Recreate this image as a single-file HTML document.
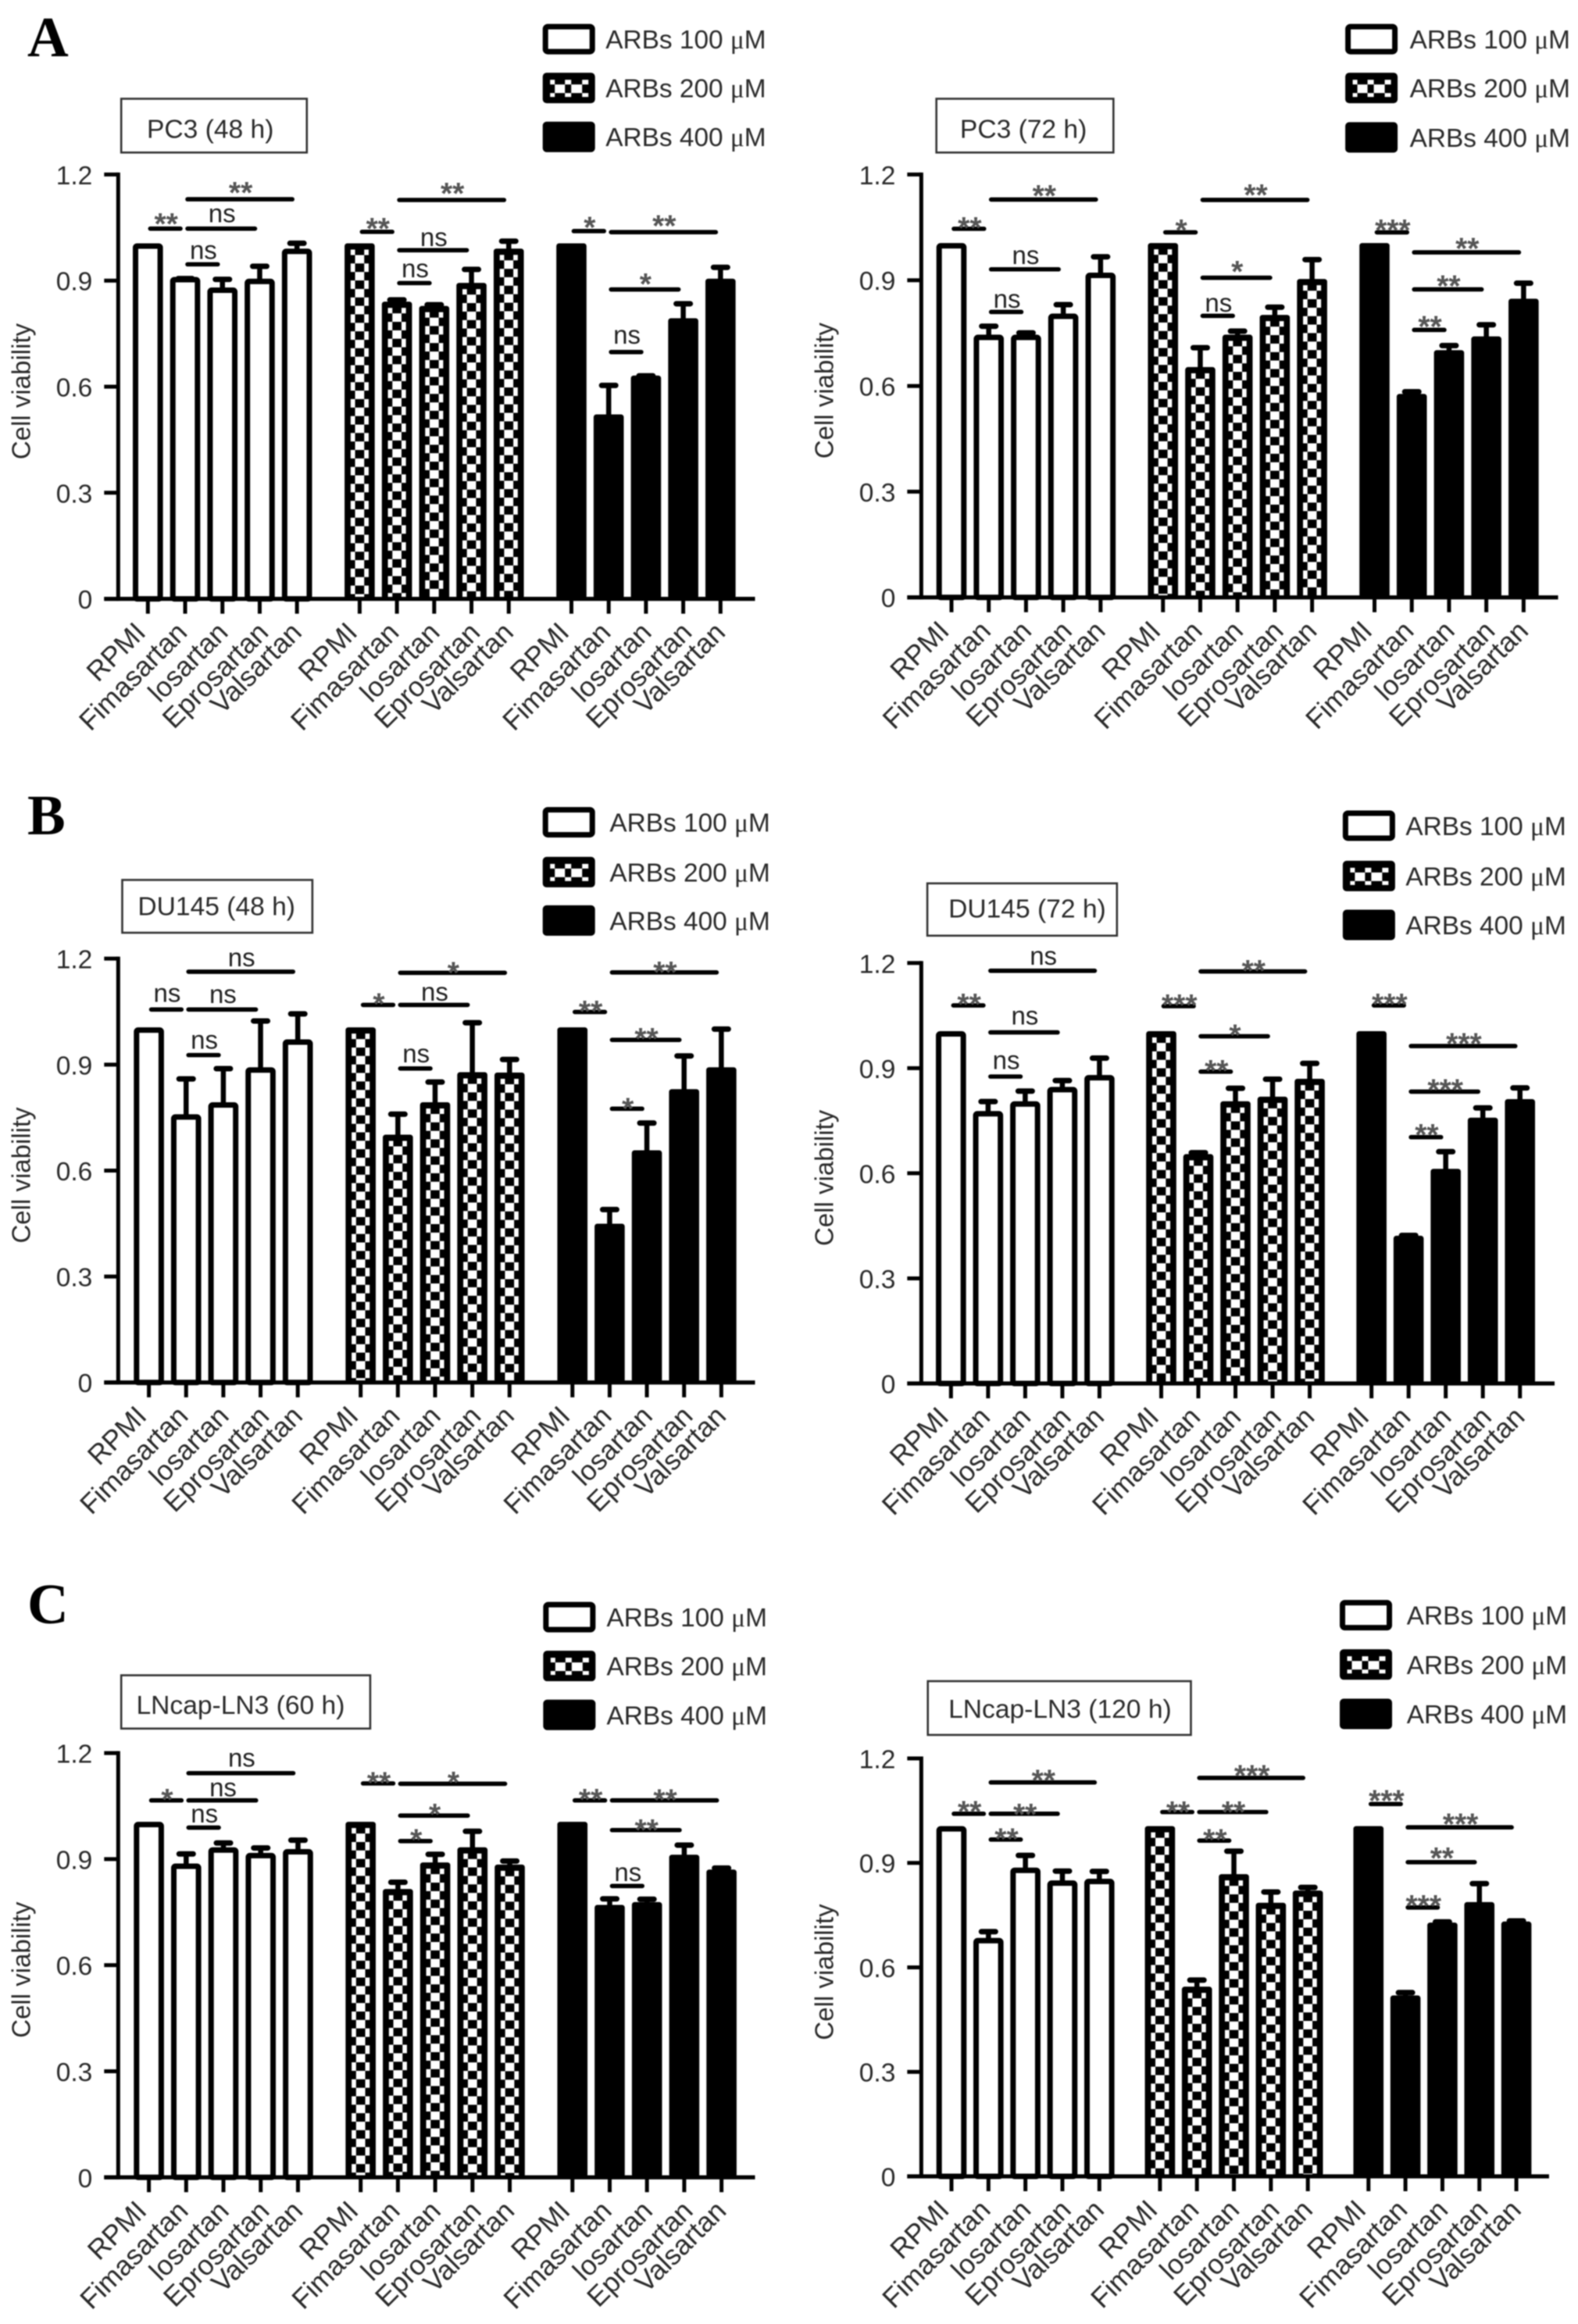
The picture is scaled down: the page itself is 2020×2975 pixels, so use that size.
<!DOCTYPE html>
<html lang="en">
<head>
<meta charset="utf-8">
<title>Cell viability bar charts</title>
<style>
html,body{margin:0;padding:0;background:#fff;}
svg{display:block;filter:blur(0.7px);}
text{font-family:"Liberation Sans",sans-serif;}
</style>
</head>
<body>
<svg id="figure" xmlns="http://www.w3.org/2000/svg" width="2020" height="2975" viewBox="0 0 2020 2975"></svg>
<script>
const categories = ['RPMI','Fimasartan','losartan','Eprosartan','Valsartan'];
const yTickValues = [0,0.3,0.6,0.9,1.2];
const yTickLabels = ['0','0.3','0.6','0.9','1.2'];
const doseLabels = ['ARBs 100 ','ARBs 200 ','ARBs 400 '];
const yAxisLabel = 'Cell viability';
const panelLetters = ['A','B','C'];

const pc348Means  = [[1,0.905,0.875,0.90,0.985],[1,0.835,0.823,0.888,0.985],[1,0.516,0.626,0.788,0.90]];
const pc348Uppers = [[1,0.91,0.908,0.945,1.01],[1,0.85,0.836,0.936,1.016],[1,0.608,0.635,0.839,0.942]];
const pc348Sig = [[0,0,1,1.047,'**',0.028],[0,1,4,1.13,'**',0.033],[0,1,3,1.047,'ns',0.018],[0,1,2,0.946,'ns',0.015],
  [1,0,1,1.038,'**',0.024],[1,1,4,1.128,'**',0.033],[1,1,3,0.986,'ns',0.012],[1,1,2,0.893,'ns',0.016],
  [2,0,1,1.04,'*',0.025],[2,1,4,1.037,'**',0.032],[2,1,3,0.875,'*',0.03],[2,1,2,0.698,'ns',0.023]];

const pc372Means  = [[1,0.74,0.74,0.80,0.916],[1,0.648,0.74,0.796,0.898],[1,0.572,0.696,0.735,0.842]];
const pc372Uppers = [[1,0.774,0.755,0.835,0.971],[1,0.713,0.76,0.828,0.963],[1,0.588,0.719,0.778,0.896]];
const pc372Sig = [[0,0,1,1.046,'**',0.018],[0,1,4,1.129,'**',0.025],[0,1,3,0.931,'ns',0.015],[0,1,2,0.81,'ns',0.012],
  [1,0,1,1.036,'*',0.021],[1,1,4,1.128,'**',0.029],[1,1,3,0.907,'*',0.032],[1,1,2,0.799,'ns',0.012],
  [2,0,1,1.036,'***',0.021],[2,1,4,0.979,'**',0.026],[2,1,3,0.874,'**',0.024],[2,1,2,0.759,'**',0.024]];

const du48Means  = [[1,0.754,0.788,0.887,0.966],[1,0.696,0.788,0.873,0.872],[1,0.444,0.652,0.825,0.887]];
const du48Uppers = [[1,0.864,0.893,1.028,1.048],[1,0.764,0.855,1.023,0.919],[1,0.494,0.739,0.929,1.005]];
const du48Sig = [[0,0,1,1.056,'ns',0.022],[0,1,4,1.163,'ns',0.015],[0,1,3,1.056,'ns',0.018],[0,1,2,0.927,'ns',0.018],
  [1,0,1,1.069,'*',0.017],[1,1,4,1.16,'*',0.015],[1,1,3,1.069,'ns',0.012],[1,1,2,0.889,'ns',0.017],
  [2,0,1,1.049,'**',0.017],[2,1,4,1.161,'**',0.015],[2,1,3,0.97,'**',0.018],[2,1,2,0.775,'*',0.015]];

const du72Means  = [[1,0.772,0.80,0.841,0.875],[1,0.649,0.80,0.813,0.864],[1,0.416,0.607,0.753,0.806]];
const du72Uppers = [[1,0.809,0.839,0.869,0.933],[1,0.663,0.847,0.873,0.918],[1,0.427,0.666,0.791,0.848]];
const du72Sig = [[0,0,1,1.079,'**',0.018],[0,1,4,1.178,'ns',0.017],[0,1,3,1.002,'ns',0.022],[0,1,2,0.876,'ns',0.021],
  [1,0,1,1.077,'***',0.018],[1,1,4,1.176,'**',0.017],[1,1,3,0.991,'*',0.018],[1,1,2,0.89,'**',0.018],
  [2,0,1,1.079,'***',0.018],[2,1,4,0.963,'***',0.021],[2,1,3,0.833,'***',0.02],[2,1,2,0.703,'**',0.022]];

const ln60Means  = [[1,0.882,0.928,0.912,0.923],[1,0.81,0.885,0.928,0.879],[1,0.765,0.773,0.907,0.865]];
const ln60Uppers = [[1,0.919,0.95,0.936,0.958],[1,0.839,0.918,0.983,0.899],[1,0.792,0.791,0.944,0.879]];
const ln60Sig = [[0,0,1,1.066,'*',0.017],[0,1,4,1.143,'ns',0.019],[0,1,3,1.066,'ns',0.011],[0,1,2,0.989,'ns',0.015],
  [1,0,1,1.114,'**',0.017],[1,1,4,1.113,'*',0.019],[1,1,3,1.023,'*',0.018],[1,1,2,0.951,'*',0.018],
  [2,0,1,1.066,'**',0.017],[2,1,4,1.066,'**',0.016],[2,1,3,0.982,'**',0.015],[2,1,2,0.824,'ns',0.014]];

const ln120Means  = [[1,0.679,0.881,0.844,0.849],[1,0.539,0.862,0.78,0.815],[1,0.514,0.723,0.782,0.726]];
const ln120Uppers = [[1,0.707,0.926,0.881,0.88],[1,0.568,0.938,0.821,0.834],[1,0.532,0.735,0.845,0.738]];
const ln120Sig = [[0,0,1,1.041,'**',0.021],[0,1,4,1.131,'**',0.021],[0,1,3,1.041,'**',0.013],[0,1,2,0.967,'**',0.017],
  [1,0,1,1.046,'**',0.015],[1,1,4,1.144,'***',0.021],[1,1,3,1.046,'**',0.015],[1,1,2,0.964,'**',0.017],
  [2,0,1,1.069,'***',0.024],[2,1,4,1.002,'***',0.024],[2,1,3,0.902,'**',0.027],[2,1,2,0.772,'***',0.02]];

const svgNS = 'http://www.w3.org/2000/svg';
const ZX = 0.6439;
const ZY = 0.6258;
const labelShift = [-1,4.5,9,13,8];
const figure = document.getElementById('figure');

function make(tag, parent, geom, text){
  const el = document.createElementNS(svgNS, tag);
  for (const k in geom) el.setAttribute(k, geom[k]);
  if (text !== undefined) el.textContent = text;
  parent.appendChild(el);
  return el;
}

function hatchPath(cx, top, bottom, half, sideW, cell, firstRow){
  let d = '';
  let y = top;
  const rect = (x0,x1,y0,y1) => { d += 'M'+x0+' '+y0+'H'+x1+'V'+y1+'H'+x0+'Z'; };
  let end = Math.min(y+firstRow, bottom);
  rect(cx-half-sideW, cx-half, y, end);
  rect(cx+half, cx+half+sideW, y, end);
  y = end;
  let centre = true;
  while (y < bottom){
    end = Math.min(y+cell, bottom);
    if (centre){ rect(cx-half, cx+half, y, end); }
    else { rect(cx-half-sideW, cx-half, y, end); rect(cx+half, cx+half+sideW, y, end); }
    centre = !centre;
    y = end;
  }
  return d;
}

function drawPanel(layout, title, means, uppers, sig){
  const panel = make('g', figure, {transform:'translate('+layout.ox+' '+layout.oy+')'});
  
  

  const y0 = layout.y0*ZY;
  const y12 = layout.y12*ZY;
  const axisX = layout.axisX*ZX;
  const yScale = v => y0 - v/1.2*(y0-y12);
  const xScale = (g,i) => (layout.first + g*layout.groupStep + i*layout.step)*ZX;

  if (layout.letter !== undefined){
    const letter = make('text', panel, {x:35, y:layout.letterY*ZY, 'font-size':73, 'font-weight':'bold', fill:'#000', style:'font-family:"Liberation Serif",serif'}, panelLetters[layout.letter]);
    
    
  }

  // title box
  const box = make('rect', panel, {x:layout.tx0*ZX, y:layout.ty0*ZY, width:(layout.tx1-layout.tx0)*ZX, height:(layout.ty1-layout.ty0)*ZY, fill:'#fff', stroke:'#333', 'stroke-width':2.6});
  
  
  const titleText = make('text', panel, {x:layout.ttx*ZX, y:layout.tty*ZY, 'font-size':33.6, fill:'#2a2a2a'}, title);
  
  

  // legend
  doseLabels.forEach((lab, k) => {
    const cy = layout.legY[k]*ZY;
    const lx = layout.legX*ZX - 2;
    const bw = 67, bh = 39;
    let swatch;
    if (k === 0){
      swatch = make('rect', panel, {x:lx+3.5, y:cy-bh/2+3.5, width:bw-7, height:bh-7, rx:3, fill:'#fff', stroke:'#000', 'stroke-width':7});
    } else {
      swatch = make('rect', panel, {x:lx, y:cy-bh/2, width:bw, height:bh, rx:5, fill:'#000'});
    }
    
    
    if (k === 1){
      const c = lx+bw/2;
      let d = '';
      const cell = (x0,x1,y0c,y1c) => { d += 'M'+x0+' '+y0c+'H'+x1+'V'+y1c+'H'+x0+'Z'; };
      [[-24,-18],[-5,3],[17,25]].forEach(r => {
        cell(c+r[0], c+r[1], cy-10.5, cy-4.5);
        cell(c+r[0], c+r[1], cy+6.5, cy+11.5);
      });
      [[-18,-5],[3,17]].forEach(r => {
        cell(c+r[0], c+r[1], cy-4.5, cy+6.5);
      });
      const h = make('path', panel, {d:d, fill:'#fff'});
      
      
    }
    const t = make('text', panel, {x:layout.legTX*ZX, y:cy+12, 'font-size':33.4, fill:'#2a2a2a'});
    
    
    make('tspan', t, {}, lab);
    make('tspan', t, {style:'font-family:"Liberation Serif",serif'}, '\u03bc');
    make('tspan', t, {}, 'M');
  });

  // bars
  means.forEach((groupVals, g) => {
    groupVals.forEach((v, i) => {
      const cx = xScale(g,i);
      const top = yScale(v)-2.5;
      const up = uppers[g][i];
      if (up > v){
        const capY = yScale(up)+2;
        const stem = make('line', panel, {x1:cx, x2:cx, y1:top+3, y2:capY, stroke:'#000', 'stroke-width':6.5});
        
        
        const cap = make('line', panel, {x1:cx-9, x2:cx+9, y1:capY, y2:capY, stroke:'#000', 'stroke-width':7, 'stroke-linecap':'round'});
        
        
      }
      let bar;
      if (g === 0){
        bar = make('rect', panel, {x:cx-15.8, y:top+3.5, width:31.6, height:y0-top-3.5, rx:2, fill:'#fff', stroke:'#000', 'stroke-width':7});
      } else {
        bar = make('rect', panel, {x:cx-19.3, y:top, width:38.6, height:y0-top, rx:3.5, fill:'#000'});
      }
      
      
      if (g === 1){
        const h = make('path', panel, {d:hatchPath(cx, top+8, y0-2.5, 5.85, 5.7, 10.85, 7), fill:'#fff'});
        
        
      }
    });
  });

  // axes
  const yAxis = make('line', panel, {x1:axisX, x2:axisX, y1:y12-2.5, y2:y0+2.5, stroke:'#000', 'stroke-width':5});
  
  
  const xAxis = make('line', panel, {x1:axisX-18, x2:(layout.axisEnd+4)*ZX, y1:y0, y2:y0, stroke:'#000', 'stroke-width':5.3});
  
  

  yTickValues.forEach((v, k) => {
    const y = yScale(v);
    const tick = make('line', panel, {x1:axisX-18, x2:axisX, y1:y, y2:y, stroke:'#000', 'stroke-width':5});
    
    
    const lab = make('text', panel, {x:axisX-33, y:y+12.5, 'text-anchor':'end', 'font-size':33.5, fill:'#2a2a2a'}, yTickLabels[k]);
    
    
  });

  const yTitleY = (y0+y12)/2 + 6;
  const yTitleX = axisX-113;
  const yTitle = make('text', panel, {x:yTitleX, y:yTitleY, 'text-anchor':'middle', 'font-size':33, fill:'#2a2a2a', transform:'rotate(-90 '+yTitleX+' '+yTitleY+')'}, yAxisLabel);
  
  

  means.forEach((groupVals, g) => {
    groupVals.forEach((v, i) => {
      const cx = xScale(g,i);
      const tick = make('line', panel, {x1:cx, x2:cx, y1:y0, y2:y0+19, stroke:'#000', 'stroke-width':5});
      
      
      const lx = cx + labelShift[i];
      const ly = y0 + 45;
      const lab = make('text', panel, {x:lx, y:ly, 'text-anchor':'end', 'font-size':35.5, fill:'#2a2a2a', transform:'rotate(-45 '+lx+' '+ly+')'}, categories[i]);
      
      
    });
  });

  // significance brackets
  sig.forEach(s => {
    const x1 = xScale(s[0],s[1])+3;
    const x2 = xScale(s[0],s[2])-6;
    const y = yScale(s[3]);
    const line = make('line', panel, {x1:x1, x2:x2, y1:y, y2:y, stroke:'#000', 'stroke-width':5.6, 'stroke-linecap':'round'});
    
    
    const mid = (x1+x2)/2;
    const ly = yScale(s[3]+s[5]);
    let lab;
    if (s[4] === 'ns'){
      lab = make('text', panel, {x:mid+1, y:ly, 'text-anchor':'middle', 'font-size':33, fill:'#222'}, s[4]);
    } else {
      lab = make('text', panel, {x:mid+1, y:ly+20, 'text-anchor':'middle', 'font-size':39, 'font-weight':'bold', fill:'#555'}, s[4]);
    }
    
    
  });
}

drawPanel({id:'pc3-48h',ox:0,oy:0,axisX:235,y0:1225,y12:357,first:294,step:74.1,groupStep:421,axisEnd:1497,letter:0,letterY:115,
  tx0:241,tx1:610,ty0:202,ty1:312,ttx:292,tty:282,legX:1082,legTX:1204,legY:[80,180,280]},'PC3 (48 h)',pc348Means,pc348Uppers,pc348Sig);
drawPanel({id:'pc3-72h',ox:1010,oy:0,axisX:263,y0:1222,y12:357,first:323,step:74.1,groupStep:420.5,axisEnd:1525,
  tx0:293,tx1:645,ty0:202,ty1:312,ttx:340,tty:282,legX:1109,legTX:1234,legY:[80,180,281]},'PC3 (72 h)',pc372Means,pc372Uppers,pc372Sig);
drawPanel({id:'du145-48h',ox:0,oy:990,axisX:235,y0:1246,y12:379,first:296,step:74,groupStep:421,axisEnd:1497,letter:1,letterY:125,
  tx0:243,tx1:621,ty0:218,ty1:326,ttx:274,tty:290,legX:1082,legTX:1212,legY:[100,202,301]},'DU145 (48 h)',du48Means,du48Uppers,du48Sig);
drawPanel({id:'du145-72h',ox:1010,oy:990,axisX:263,y0:1248,y12:388,first:322,step:73.8,groupStep:418,axisEnd:1518,
  tx0:275,tx1:652,ty0:225,ty1:332,ttx:317,tty:295,legX:1104,legTX:1226,legY:[107,210,310]},'DU145 (72 h)',du72Means,du72Uppers,du72Sig);
drawPanel({id:'lncap-60h',ox:0,oy:1995,axisX:235,y0:1266,y12:398,first:296,step:74.1,groupStep:421,axisEnd:1497,letter:2,letterY:133,
  tx0:241,tx1:736,ty0:239,ty1:348,ttx:271,tty:318,legX:1083,legTX:1206,legY:[120,220,320]},'LNcap-LN3 (60 h)',ln60Means,ln60Uppers,ln60Sig);
drawPanel({id:'lncap-120h',ox:1010,oy:1995,axisX:263,y0:1264,y12:409,first:323,step:73.5,groupStep:414.5,axisEnd:1507,
  tx0:276,tx1:799,ty0:251,ty1:361,ttx:317,tty:326,legX:1098,legTX:1228,legY:[116,217,318]},'LNcap-LN3 (120 h)',ln120Means,ln120Uppers,ln120Sig);
</script>
</body>
</html>
